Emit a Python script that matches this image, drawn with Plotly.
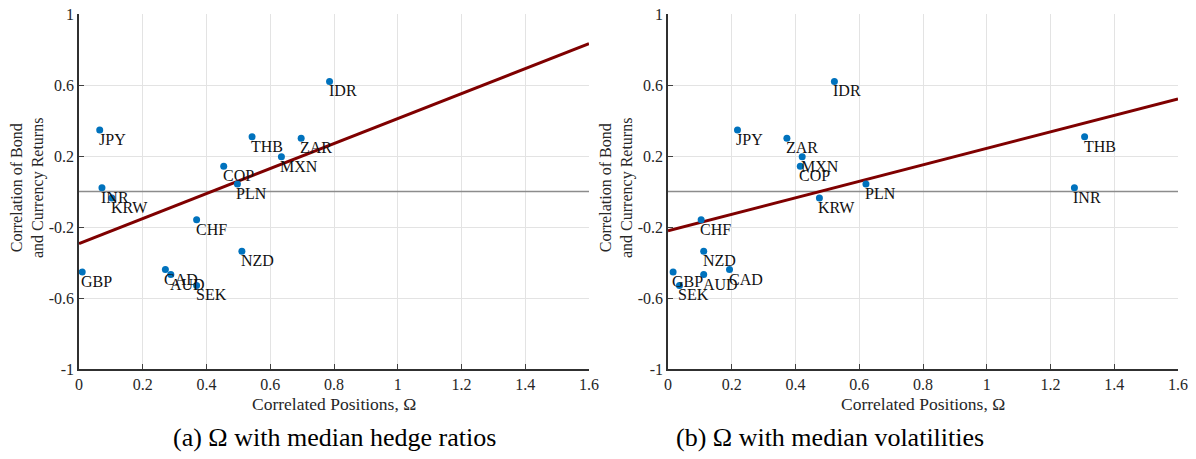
import plotly.graph_objects as go

# ---- data ----
currencies = ["IDR", "JPY", "THB", "ZAR", "MXN", "COP", "PLN", "INR", "KRW",
              "CHF", "NZD", "GBP", "CAD", "AUD", "SEK"]
corr_returns = [0.620, 0.347, 0.308, 0.300, 0.196, 0.142, 0.042, 0.021, -0.037,
                -0.159, -0.336, -0.453, -0.440, -0.468, -0.529]
omega_hedge = [0.786, 0.065, 0.543, 0.697, 0.635, 0.454, 0.497, 0.072, 0.103,
               0.369, 0.511, 0.010, 0.271, 0.288, 0.369]
omega_vol = [0.522, 0.218, 1.307, 0.373, 0.421, 0.415, 0.621, 1.275, 0.475,
             0.104, 0.112, 0.016, 0.193, 0.112, 0.036]
fit_x = [0.0, 1.6]
fit_hedge_y = [-0.293, 0.833]
fit_vol_y = [-0.222, 0.522]
x_ticks = [0, 0.2, 0.4, 0.6, 0.8, 1, 1.2, 1.4, 1.6]
y_ticks = [-1, -0.6, -0.2, 0.2, 0.6, 1]
captions = ["(a) Ω with median hedge ratios", "(b) Ω with median volatilities"]

FONT = "Liberation Serif"
BLUE = "#0072BD"
RED = "#7f0000"

fig = go.Figure()
panels = [(omega_hedge, fit_hedge_y, "x", "y"), (omega_vol, fit_vol_y, "x2", "y2")]
annotations = []
for xs, fy, xa, ya in panels:
    fig.add_trace(go.Scatter(x=[0, 1.6], y=[0, 0], mode="lines", xaxis=xa, yaxis=ya,
                             line=dict(color="#8c8c8c", width=1.5), showlegend=False,
                             hoverinfo="skip"))
    fig.add_trace(go.Scatter(x=fit_x, y=fy, mode="lines", xaxis=xa, yaxis=ya,
                             line=dict(color=RED, width=3), showlegend=False))
    fig.add_trace(go.Scatter(x=xs, y=corr_returns, mode="markers", xaxis=xa, yaxis=ya,
                             marker=dict(color=BLUE, size=7), showlegend=False,
                             text=currencies))
    for name, xv, yv in zip(currencies, xs, corr_returns):
        annotations.append(dict(x=xv, y=yv, xref=xa, yref=ya, text=name, showarrow=False,
                                xanchor="left", yanchor="top", xshift=-3, yshift=1,
                                font=dict(family=FONT, size=16, color="#111111")))

W, H = 1196, 459
OFF = 8  # page body margin offset
def px_x(p):
    return (p - OFF) / W
def px_y(p):
    return 1 - (p - OFF) / H

domL = [px_x(79), px_x(589)]
domR = [px_x(668), px_x(1178)]
domY = [px_y(369), px_y(14)]

axis_common = dict(range=[0, 1.6], tickvals=x_ticks, ticktext=[f"{v:g}" for v in x_ticks],
                   showgrid=True, gridcolor="#e3e3e3", gridwidth=1, zeroline=False,
                   showline=True, linecolor="#303030", linewidth=1.5,
                   ticks="inside", ticklen=5, tickcolor="#404040", automargin=False,
                   ticklabeloverflow="allow",
                   tickfont=dict(family=FONT, size=16, color="#262626"), mirror=False)
yaxis_common = dict(range=[-1, 1], tickvals=y_ticks, ticktext=[f"{v:g}" for v in y_ticks],
                    showgrid=True, gridcolor="#e3e3e3", gridwidth=1, zeroline=False,
                    showline=True, linecolor="#303030", linewidth=1.5,
                    ticks="inside", ticklen=5, tickcolor="#404040", automargin=False,
                    ticklabeloverflow="allow",
                    tickfont=dict(family=FONT, size=16, color="#262626"))

# axis titles and captions
for cx_pix, ylab_pix, cap_pix, cap in [(334, 28, 334, captions[0]), (923, 617, 830, captions[1])]:
    annotations.append(dict(x=px_x(cx_pix), y=px_y(404), xref="paper", yref="paper",
                            text="Correlated Positions, Ω", showarrow=False,
                            xanchor="center", yanchor="middle",
                            font=dict(family=FONT, size=17.5, color="#262626")))
    annotations.append(dict(x=px_x(ylab_pix), y=px_y(188), xref="paper", yref="paper",
                            text="Correlation of Bond<br>and Currency Returns", showarrow=False,
                            textangle=-90, xanchor="center", yanchor="middle",
                            font=dict(family=FONT, size=16, color="#262626")))
    annotations.append(dict(x=px_x(cap_pix), y=px_y(437), xref="paper", yref="paper",
                            text=cap, showarrow=False, xanchor="center", yanchor="middle",
                            font=dict(family=FONT, size=26, color="#000000")))

fig.update_layout(
    width=W, height=H, margin=dict(l=0, r=0, t=0, b=0, autoexpand=False),
    paper_bgcolor="white", plot_bgcolor="white",
    xaxis=dict(domain=domL, anchor="y", **axis_common),
    yaxis=dict(domain=domY, anchor="x", **yaxis_common),
    xaxis2=dict(domain=domR, anchor="y2", **axis_common),
    yaxis2=dict(domain=domY, anchor="x2", **yaxis_common),
    annotations=annotations,
)

fig.write_html("out.html")
